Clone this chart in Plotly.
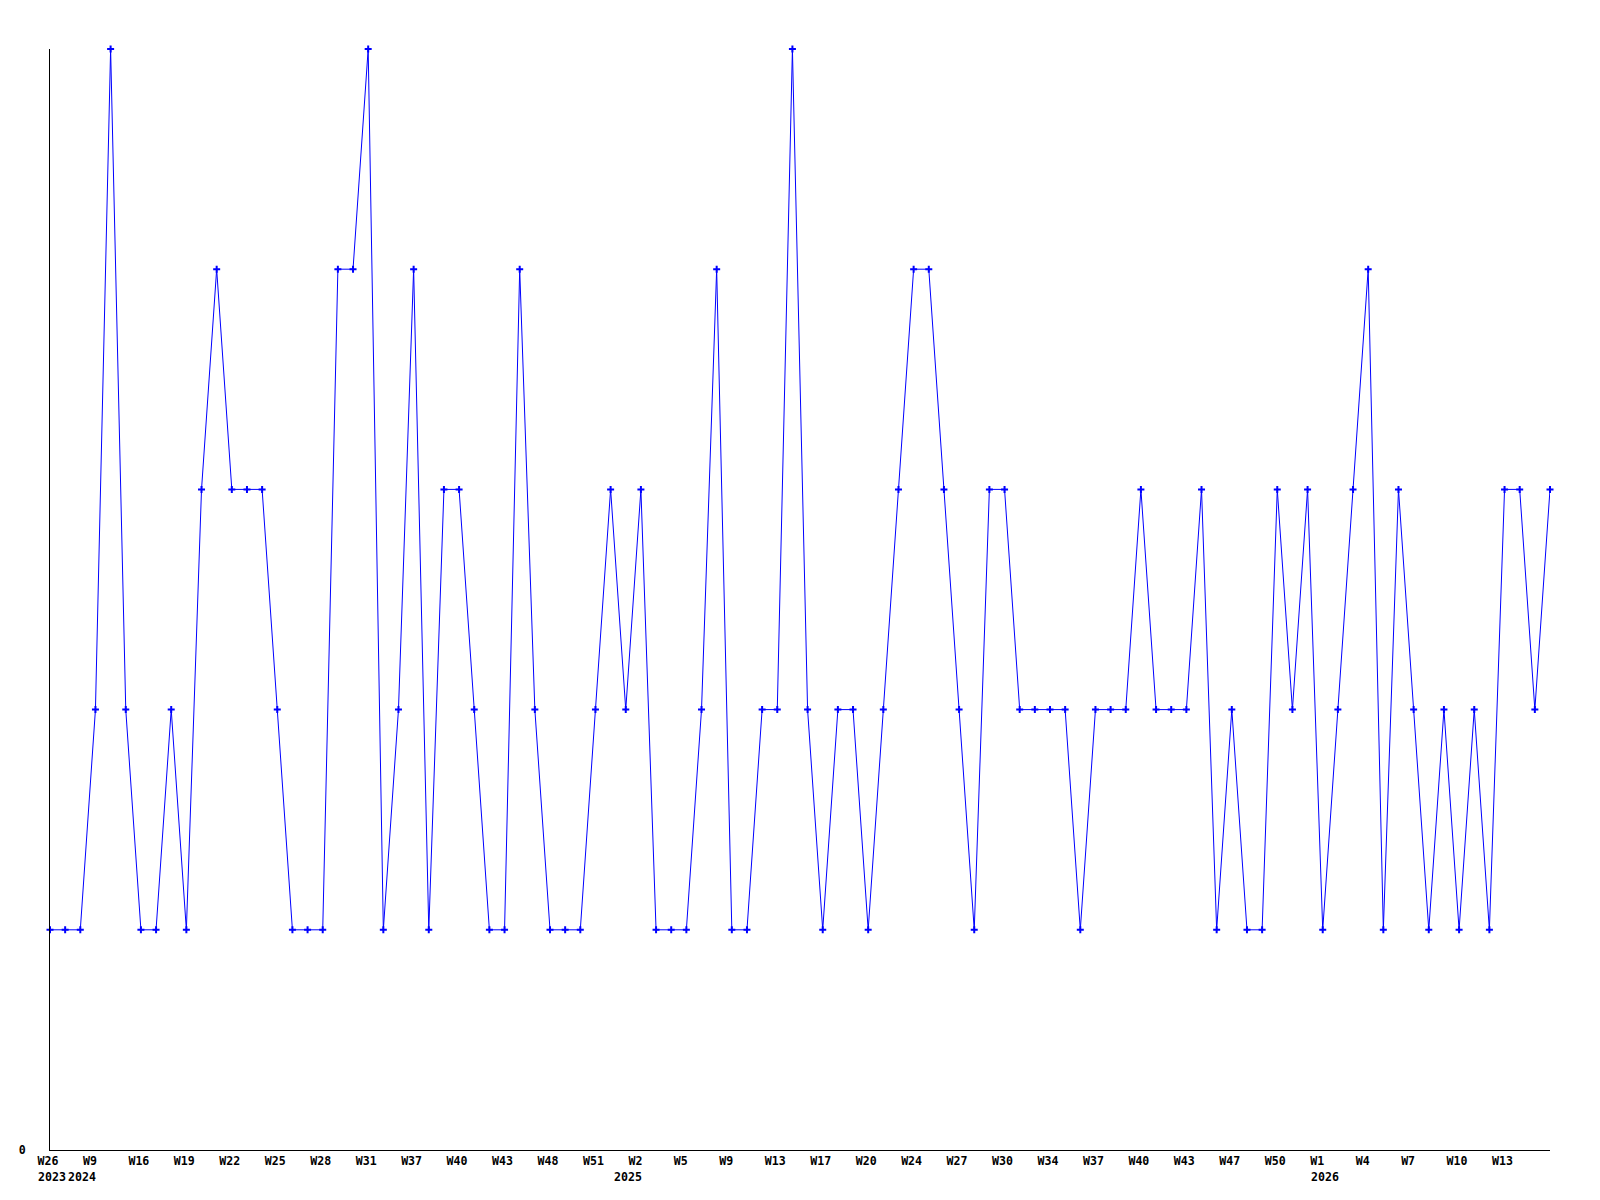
import plotly.graph_objects as go

weeks = [
    "2023-W26", "2023-W27", "2024-W08", "2024-W09", "2024-W10", "2024-W13",
    "2024-W16", "2024-W17", "2024-W18", "2024-W19", "2024-W20", "2024-W21",
    "2024-W22", "2024-W23", "2024-W24", "2024-W25", "2024-W26", "2024-W27",
    "2024-W28", "2024-W29", "2024-W30", "2024-W31", "2024-W33", "2024-W35",
    "2024-W37", "2024-W38", "2024-W39", "2024-W40", "2024-W41", "2024-W42",
    "2024-W43", "2024-W45", "2024-W46", "2024-W48", "2024-W49", "2024-W50",
    "2024-W51", "2024-W52", "2025-W01", "2025-W02", "2025-W03", "2025-W04",
    "2025-W05", "2025-W06", "2025-W08", "2025-W09", "2025-W10", "2025-W12",
    "2025-W13", "2025-W14", "2025-W16", "2025-W17", "2025-W18", "2025-W19",
    "2025-W20", "2025-W21", "2025-W23", "2025-W24", "2025-W25", "2025-W26",
    "2025-W27", "2025-W28", "2025-W29", "2025-W30", "2025-W31", "2025-W33",
    "2025-W34", "2025-W35", "2025-W36", "2025-W37", "2025-W38", "2025-W39",
    "2025-W40", "2025-W41", "2025-W42", "2025-W43", "2025-W44", "2025-W46",
    "2025-W47", "2025-W48", "2025-W49", "2025-W50", "2025-W51", "2025-W52",
    "2026-W01", "2026-W02", "2026-W03", "2026-W04", "2026-W05", "2026-W06",
    "2026-W07", "2026-W08", "2026-W09", "2026-W10", "2026-W11", "2026-W12",
    "2026-W13", "2026-W14", "2026-W15", "2026-W16",
]

counts = [
    1, 1, 1, 2, 5, 2, 1, 1, 2, 1,
    3, 4, 3, 3, 3, 2, 1, 1, 1, 4,
    4, 5, 1, 2, 4, 1, 3, 3, 2, 1,
    1, 4, 2, 1, 1, 1, 2, 3, 2, 3,
    1, 1, 1, 2, 4, 1, 1, 2, 2, 5,
    2, 1, 2, 2, 1, 2, 3, 4, 4, 3,
    2, 1, 3, 3, 2, 2, 2, 2, 1, 2,
    2, 2, 3, 2, 2, 2, 3, 1, 2, 1,
    1, 3, 2, 3, 1, 2, 3, 4, 1, 3,
    2, 1, 2, 1, 2, 1, 3, 3, 2, 3,
]

tick_weeks = [
    "2023-W26", "2024-W09", "2024-W16", "2024-W19", "2024-W22", "2024-W25",
    "2024-W28", "2024-W31", "2024-W37", "2024-W40", "2024-W43", "2024-W48",
    "2024-W51", "2025-W02", "2025-W05", "2025-W09", "2025-W13", "2025-W17",
    "2025-W20", "2025-W24", "2025-W27", "2025-W30", "2025-W34", "2025-W37",
    "2025-W40", "2025-W43", "2025-W47", "2025-W50", "2026-W01", "2026-W04",
    "2026-W07", "2026-W10", "2026-W13",
]
tick_labels = [
    "W26", "W9", "W16", "W19", "W22", "W25",
    "W28", "W31", "W37", "W40", "W43", "W48",
    "W51", "W2", "W5", "W9", "W13", "W17",
    "W20", "W24", "W27", "W30", "W34", "W37",
    "W40", "W43", "W47", "W50", "W1", "W4",
    "W7", "W10", "W13",
]

year_weeks = ["2023-W26", "2024-W08", "2025-W01", "2026-W01"]
year_labels = ["2023", "2024", "2025", "2026"]

font_family = "DejaVu Sans Mono"
label_font = dict(family=font_family, size=11.6, color="black", weight="bold")

fig = go.Figure(
    go.Scatter(
        x=weeks,
        y=counts,
        mode="lines+markers",
        line=dict(color="#0000ff", width=1),
        marker=dict(symbol="cross-thin", size=5, color="#0000ff",
                    line=dict(color="#0000ff", width=2)),
        cliponaxis=False,
        showlegend=False,
    )
)

for wk, yr in zip(year_weeks, year_labels):
    fig.add_annotation(
        x=wk, y=0, xref="x", yref="y",
        text=yr, showarrow=False,
        xanchor="left", yanchor="middle",
        xshift=-14, yshift=-27,
        font=label_font,
    )

fig.update_layout(
    width=1600,
    height=1200,
    margin=dict(l=42, r=58, t=41, b=58),
    paper_bgcolor="white",
    plot_bgcolor="white",
    font=dict(family=font_family, size=11.6, color="black"),
    xaxis=dict(
        type="category",
        categoryorder="array",
        categoryarray=weeks,
        range=[0, len(weeks) - 1],
        tickmode="array",
        tickvals=tick_weeks,
        ticktext=tick_labels,
        tickangle=0,
        ticklabelposition="outside right",
        ticklabelshift=-13,
        showgrid=False,
        zeroline=False,
        showline=True,
        linecolor="black",
        linewidth=1,
        ticks="",
        tickfont=label_font,
        fixedrange=True,
    ),
    yaxis=dict(
        range=[0, 5],
        tickmode="array",
        tickvals=[0],
        ticktext=["0"],
        showgrid=False,
        zeroline=False,
        showline=True,
        linecolor="black",
        linewidth=1,
        ticks="",
        ticklabelstandoff=21,
        tickfont=label_font,
        fixedrange=True,
    ),
)

fig.write_html("out.html")
